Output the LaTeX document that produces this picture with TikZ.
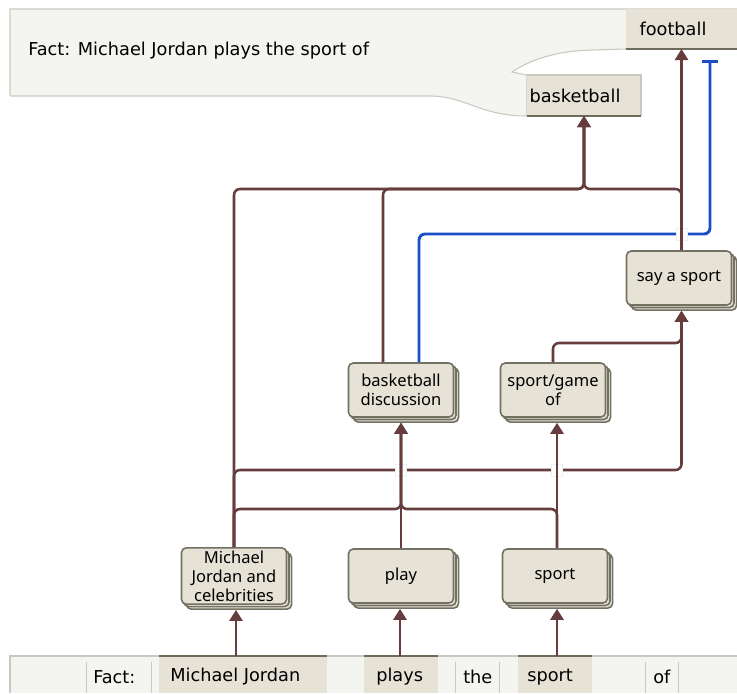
\documentclass[tikz,border=0pt]{standalone}
\usepackage{fontspec}
\setmainfont{Noto Sans}
\newfontfamily\panelfont{DejaVu Sans}
\usetikzlibrary{arrows.meta,shadows}

\definecolor{wire}{HTML}{663C3C}
\definecolor{inhib}{HTML}{1A4EC4}
\definecolor{chip}{HTML}{E6E2D6}
\definecolor{chipedge}{HTML}{6E6B5C}
\definecolor{panel}{HTML}{F4F4F0}
\definecolor{paneledge}{HTML}{C9C9C2}
\definecolor{cardedge}{HTML}{737163}

\tikzset{
  card/.style={draw=cardedge, fill=chip, line width=1.2pt, rounded corners=3.5pt,
    minimum width=78.75pt, minimum height=40.5pt, align=center, inner sep=2pt,
    font=\fontsize{12.4}{14.3}\selectfont,
    double copy shadow={shadow xshift=1.9pt, shadow yshift=-1.9pt}},
  tokentext/.style={anchor=west, inner sep=0pt, font=\panelfont\fontsize{13.3}{15}\selectfont},
  chiptext/.style={inner sep=0pt, font=\panelfont\fontsize{13.3}{15}\selectfont},
  link/.style={draw=wire, line width=1.9pt, rounded corners=4.5pt,
    -{Triangle[width=9.75pt,length=8.25pt]}},
  intoCard/.style={shorten >=3.75pt},
  block/.style={draw=inhib, line width=2.2pt, rounded corners=4.5pt,
    -{Bar[width=12pt,line width=2.2pt]}},
  gap/.style={fill=white, draw=black!6, line width=0.4pt},
  sep/.style={draw=paneledge, line width=0.6pt}
}

\begin{document}
\begin{tikzpicture}[x=0.75pt,y=-0.75pt]
\useasboundingbox (0,0) rectangle (737,693);

% ---- prompt panel with the two completions ----
\filldraw[fill=panel, draw=paneledge, line width=0.8pt]
  (10,11) -- (10,9) -- (737,9) -- (737,49) -- (626,49) -- (592,50)
  .. controls (555,51) and (530,60) .. (512,72)
  -- (527,75) -- (527,116)
  .. controls (480,116) and (465,96) .. (430,96)
  -- (12,96) .. controls (10,96) .. (10,94) -- cycle;
\node[tokentext] (prompt) at (28,51) {Fact: Michael Jordan plays the sport of};

% football completion
\fill[chip] (626,9) rectangle (737,49);
\node[chiptext] (fb) at (673,29) {football};
\coordinate (fbBase) at (681.5,49);
\draw[chipedge, line width=1.6pt] (626,49) -- (737,49);

% basketball completion
\fill[chip] (527,75) rectangle (641,116);
\draw[paneledge, line width=0.8pt] (527,75) -- (641,75) -- (641,116);
\node[chiptext] (bkText) at (575,95.5) {basketball};
\coordinate (bk) at (584,116);
\draw[chipedge, line width=1.6pt] (527,116) -- (641,116);

% ---- token strip ----
\fill[panel] (10,656) rectangle (737,693);
\draw[paneledge, line width=0.8pt] (10,693) -- (10,656) -- (737,656);
\fill[chip] (159,656) rectangle (327,693);
\fill[chip] (364,656) rectangle (438,693);
\fill[chip] (518,656) rectangle (592,693);
\draw[chipedge, line width=1.6pt] (159,656) -- (327,656);
\draw[chipedge, line width=1.6pt] (364,656) -- (438,656);
\draw[chipedge, line width=1.6pt] (518,656) -- (592,656);
\foreach \sx in {86,151,455,499,645,678}
  \draw[sep] (\sx,662) -- (\sx,693);
\node[tokentext] (tFact) at (93,677) {Fact:};
\node[tokentext] (tMJ) at (170,677) {Michael Jordan};
\node[tokentext] (tPlays) at (376,677) {plays};
\node[tokentext] (tThe) at (463,677) {the};
\node[tokentext] (tSport) at (527,677) {sport};
\node[tokentext] (tOf) at (653,677) {of};
\coordinate (tMJtop) at (236,656);
\coordinate (tPlaystop) at (400,656);
\coordinate (tSporttop) at (557,656);

% ---- feature cards ----
\node[card] (mj) at (234,576) {Michael\\Jordan and\\celebrities};
\node[card] (play) at (401,576) {play};
\node[card] (sport) at (555,576) {sport};
\node[card] (bd) at (401,390) {basketball\\discussion};
\node[card] (sg) at (553,390) {sport/game\\of};
\node[card] (say) at (679,278) {say a sport};

% rails where edges run sideways
\coordinate (railTop) at (0,189);
\coordinate (railBlue) at (0,234);
\coordinate (railSG) at (0,343);
\coordinate (railSay) at (0,470);
\coordinate (railBD) at (0,509);
\coordinate (blueX) at (710,0);

% inhibitory edge: basketball discussion -| football
\draw[block] ([xshift=13.5pt]bd.north) |- (blueX |- railBlue) -- (blueX |- 0,60);

% Michael Jordan and celebrities -> say a sport (passes behind two verticals)
\draw[link, intoCard] (mj.north) |- (fbBase |- railSay) -- (fbBase |- say.south);
\draw[gap] (395,464) rectangle (406,476);
\draw[gap] (551,464) rectangle (562,476);
\draw[gap] (676,228) rectangle (687,240);

% tokens -> first layer
\draw[link, intoCard] (tMJtop) -- (tMJtop |- mj.south);
\draw[link, intoCard] (tPlaystop) -- (tPlaystop |- play.south);
\draw[link, intoCard] (tSporttop) -- (tSporttop |- sport.south);

% first layer -> basketball discussion
\draw[link, intoCard] (mj.north) |- (bd.south |- railBD) -- (bd.south);
\draw[link, intoCard] (play.north) -- (bd.south);
\draw[link, intoCard] (tSporttop |- sport.north) |- (bd.south |- railBD) -- (bd.south);

% sport -> sport/game of
\draw[link, intoCard] (tSporttop |- sport.north) -- (tSporttop |- sg.south);

% sport/game of -> say a sport
\draw[link, intoCard] (sg.north) |- (fbBase |- railSG) -- (fbBase |- say.south);

% edges into basketball
\draw[link] (mj.north) |- (bk |- railTop) -- (bk);
\draw[link] ([xshift=-13.5pt]bd.north) |- (bk |- railTop) -- (bk);
\draw[link] (fbBase |- say.north) |- (bk |- railTop) -- (bk);

% say a sport -> football
\draw[link] (fbBase |- say.north) -- (fbBase);
\end{tikzpicture}
\end{document}
